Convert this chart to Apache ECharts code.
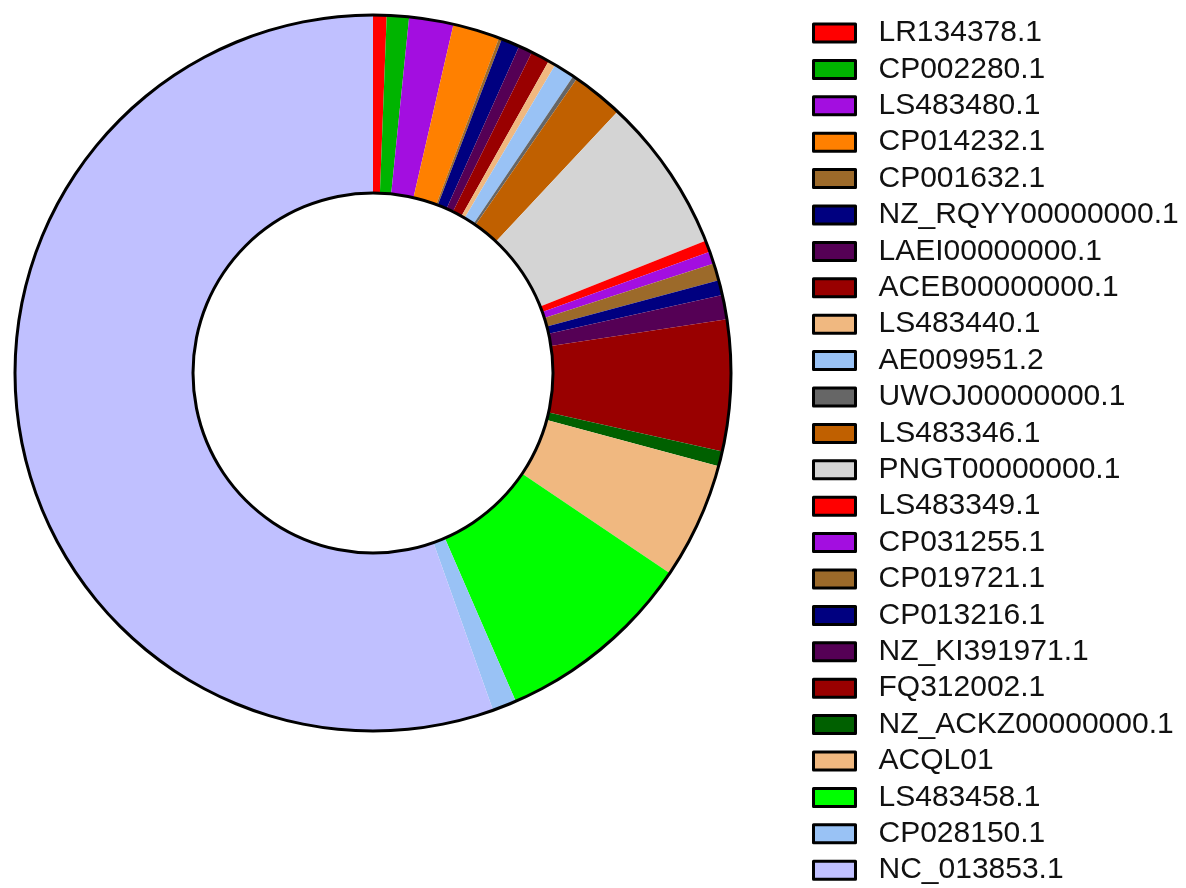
<!DOCTYPE html>
<html>
<head>
<meta charset="utf-8">
<script src="https://cdn.jsdelivr.net/npm/echarts@6/dist/echarts.min.js"></script>
<style>html,body{margin:0;padding:0;background:#fff;}#chart{width:1186px;height:888px;}</style>
</head>
<body>
<div id="chart"></div>
<script>
// Categories (clockwise from 12 o'clock), values read as share of the circle (degrees)
const categories = [
  'LR134378.1','CP002280.1','LS483480.1','CP014232.1','CP001632.1',
  'NZ_RQYY00000000.1','LAEI00000000.1','ACEB00000000.1','LS483440.1','AE009951.2',
  'UWOJ00000000.1','LS483346.1','PNGT00000000.1','LS483349.1','CP031255.1',
  'CP019721.1','CP013216.1','NZ_KI391971.1','FQ312002.1','NZ_ACKZ00000000.1',
  'ACQL01','LS483458.1','CP028150.1','NC_013853.1'
];
const values = [
  2.2, 3.6, 7.2, 7.6, 0.5,
  3.0, 2.25, 3.05, 1.2, 3.4,
  0.7, 8.4, 25.2, 1.9, 2.0,
  2.8, 2.4, 3.95, 21.3, 2.45,
  18.9, 32.5, 3.9, 199.6
];
const colors = [
  '#ff0000','#00b400','#a30ee0','#ff8000','#9c6a2a',
  '#000080','#550055','#990000','#f0b880','#99c2f5',
  '#666666','#c06000','#d4d4d4','#ff0000','#a30ee0',
  '#9c6a2a','#000080','#550055','#990000','#006000',
  '#f0b880','#00ff00','#99c2f5','#c0c0ff'
];

const chart = echarts.init(document.getElementById('chart'), null, {renderer: 'canvas'});
const data = categories.map((n, i) => ({name: n, value: values[i], itemStyle: {color: colors[i]}}));
const CX = 373, CY = 373, RIN = 180, ROUT = 358;

chart.setOption({
  animation: false,
  backgroundColor: '#ffffff',
  legend: {
    orient: 'vertical',
    left: 812,
    top: 18,
    padding: 0,
    data: categories,
    icon: 'rect',
    itemWidth: 42,
    itemHeight: 18,
    itemGap: 6.4,
    itemStyle: {borderColor: '#000', borderWidth: 3},
    selectedMode: false,
    textStyle: {
      fontFamily: '"Liberation Sans", Arial, sans-serif',
      fontSize: 30,
      color: '#111',
      padding: [0, 0, 0, 18]
    }
  },
  series: [
    {
      type: 'pie',
      center: [CX, CY],
      radius: [RIN, ROUT],
      startAngle: 90,
      clockwise: true,
      avoidLabelOverlap: false,
      label: {show: false},
      labelLine: {show: false},
      itemStyle: {borderWidth: 0},
      emphasis: {disabled: true},
      silent: true,
      data: data
    },
    {
      type: 'pie',
      name: 'outerRing',
      center: [CX, CY],
      radius: [ROUT - 1.5, ROUT + 1.5],
      label: {show: false},
      labelLine: {show: false},
      itemStyle: {color: '#000', borderWidth: 0},
      emphasis: {disabled: true},
      silent: true,
      data: [{name: '_outer', value: 1}]
    },
    {
      type: 'pie',
      name: 'innerRing',
      center: [CX, CY],
      radius: [RIN - 1.5, RIN + 1.5],
      label: {show: false},
      labelLine: {show: false},
      itemStyle: {color: '#000', borderWidth: 0},
      emphasis: {disabled: true},
      silent: true,
      data: [{name: '_inner', value: 1}]
    }
  ]
});
</script>
</body>
</html>
